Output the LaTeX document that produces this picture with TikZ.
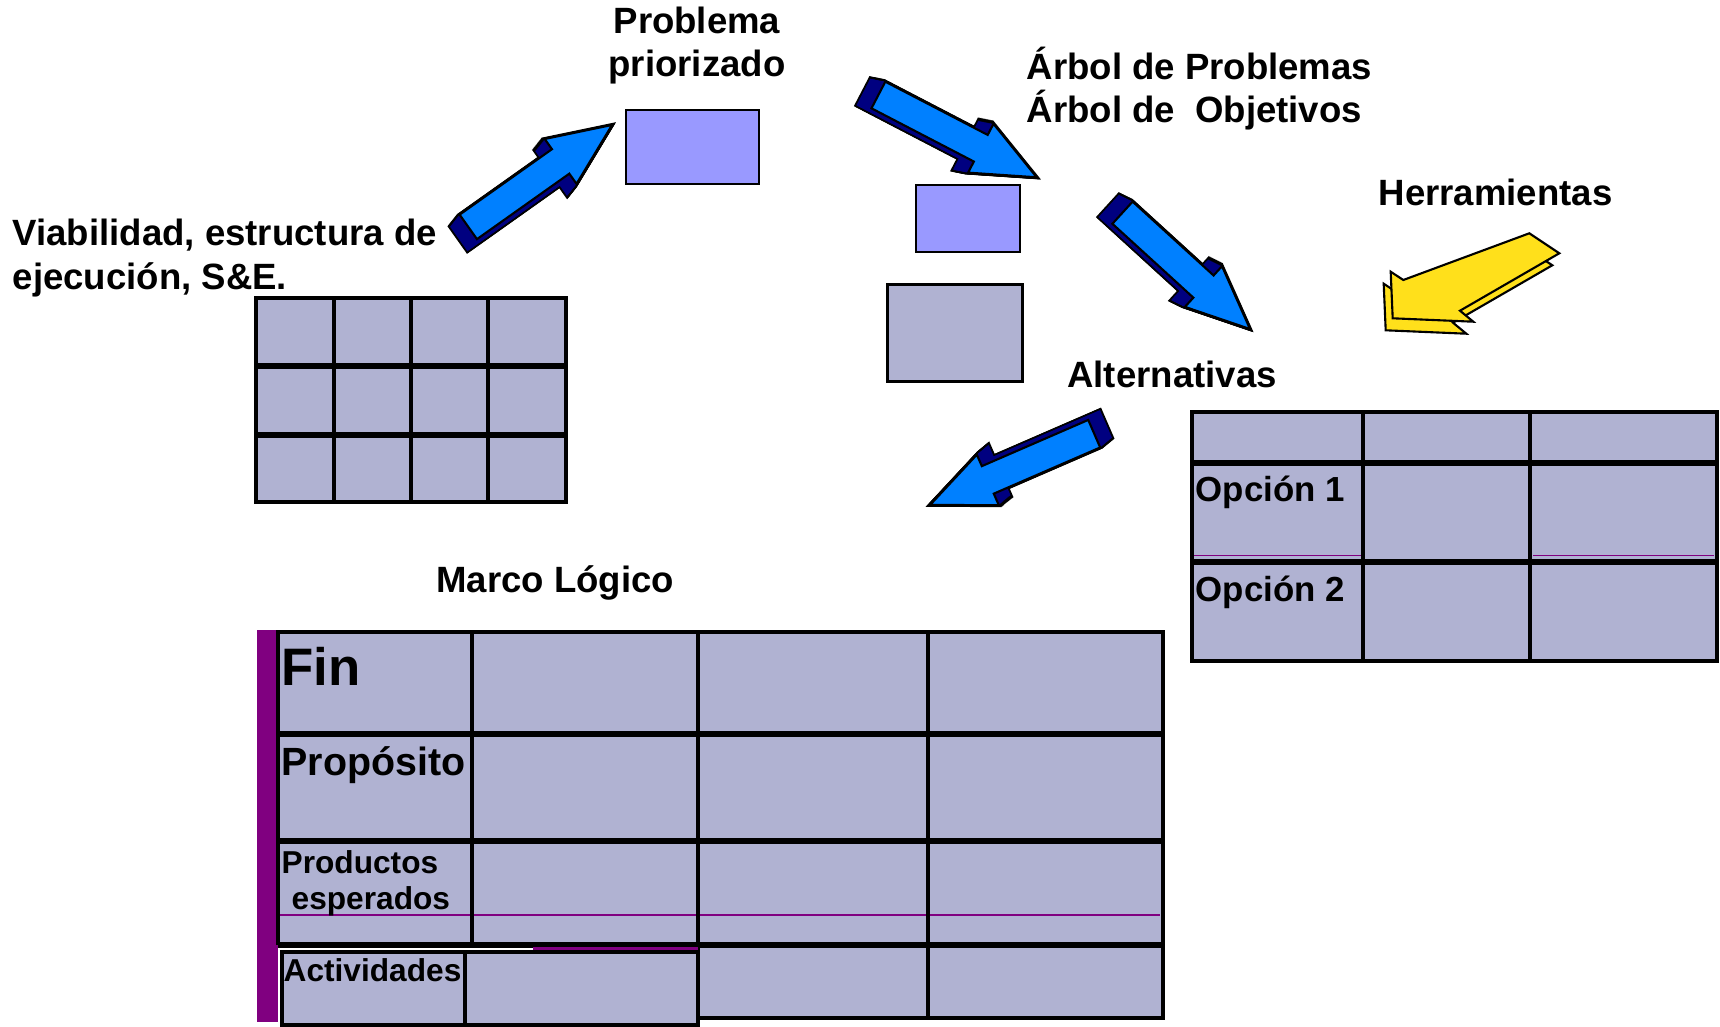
\documentclass[tikz,border=0pt]{standalone}
\usepackage{fontspec}
\setmainfont{Liberation Sans}
\usepackage{tikz}
\usetikzlibrary{positioning}
\definecolor{celda}{HTML}{B0B2D2}
\definecolor{lila}{HTML}{9999FF}
\definecolor{azul}{HTML}{0080FF}
\definecolor{azuloscuro}{HTML}{000080}
\definecolor{amarillo}{HTML}{FFE01B}
\definecolor{morado}{HTML}{800080}
\def\contorno#1{(0,-15) -- (#1-63,-15) -- (#1-63,-27.5) -- (#1,0) -- (#1-63,27.5) -- (#1-63,15) -- (0,15) -- cycle}
\def\amarilla{(1529.3,233.3) -- (1559.3,253.3) -- (1460,310.7) -- (1473.3,321.7) -- (1392.7,318.3) -- (1390.7,271.7) -- (1403.3,280) -- cycle}
\tikzset{pics/flecha/.style={code={
  \foreach \k in {0,0.05,...,1} \draw[line width=1.1pt, shift={(-15.5*\k,4.5*\k)}] \contorno{#1};
  \foreach \k in {0,0.05,...,1} \fill[azuloscuro, shift={(-15.5*\k,4.5*\k)}] \contorno{#1};
  \draw[fill=azul, line width=0.6pt] \contorno{#1};
}}}

\begin{document}
\begin{tikzpicture}[x=0.01cm, y=-0.01cm,
                      every node/.style = {inner sep=0pt,
                        font=\bfseries\fontsize{10.4}{12.5}\selectfont},
                      texto/.style = {anchor=base west, align=left},
                      caja/.style = {draw, line width=0.6pt, fill=lila},
                      vline/.style = {line width=1.2pt},
                      hline/.style = {line width=1.7pt}]
\useasboundingbox (0,0) rectangle (1720,1027);

% rejilla de arriba
\fill[celda] (256,298) rectangle (566,502);
\foreach \x in {334,411,488} \draw[vline] (\x,298) -- (\x,502);
\foreach \y in {366,435} \draw[hline] (256,\y) -- (566,\y);
\draw[vline] (256,298) rectangle (566,502);

% tabla de alternativas
\fill[celda] (1192,412) rectangle (1717,661);
\foreach \x in {1363,1530} \draw[vline] (\x,412) -- (\x,661);
\foreach \y in {463,562} \draw[hline] (1192,\y) -- (1717,\y);
\draw[morado, line width=0.4pt] (1193,555.5) -- (1361,555.5) (1533,555.5) -- (1714,555.5);
\draw[vline] (1192,412) rectangle (1717,661);

% marco logico
\fill[morado] (257,630) rectangle (278,1022);
\fill[celda] (278,632) rectangle (1163,945) (698,945) rectangle (1163,1018);
\draw[morado, line width=0.4pt] (280,915) -- (1160,915);
\draw[vline] (472,632) -- (472,945);
\foreach \x in {698,928} \draw[vline] (\x,632) -- (\x,1018);
\foreach \y in {734,841,945} \draw[hline] (278,\y) -- (1163,\y);
\draw[vline] (278,945) -- (278,632) -- (1163,632) -- (1163,1018) -- (698,1018);
\fill[morado] (533,947) rectangle (698,951);
\draw[vline, fill=celda] (282,952) rectangle (465,1025);
\draw[vline, fill=celda] (465,952) rectangle (698,1025);

% cajas
\node[caja, minimum width=1.33cm, minimum height=0.74cm] (prob) at (692.5,147) {};
\node[caja, minimum width=1.04cm, minimum height=0.67cm] (arbolcaja) at (968,218.7) {};
\node[draw, line width=1pt, fill=celda, minimum width=1.346cm,
      minimum height=0.974cm] (altcaja) at (955,333) {};

% flechas
\pic[rotate=35.34] at (468.3,226.9) {flecha=176.2};
\pic[rotate=-27.47] at (878.4,95) {flecha=178.4};
\pic[rotate=-42.37] at (1122.5,212.7) {flecha=172.6};
\pic[rotate=-156.53] at (1094.2,433.7) {flecha=179};
\draw[fill=amarillo, line width=0.6pt, shift={(-7,12)}] \amarilla;
\draw[fill=amarillo, line width=0.6pt] \amarilla;

% textos (base = ultima linea)
\node[anchor=base, align=center] (problema) at (697,77) {Problema\\priorizado};
\node[texto] (arbol) at (1026,123) {Árbol de Problemas\\Árbol de~~Objetivos};
\node[texto] (herram) at (1378,205) {Herramientas};
\node[texto] (viab) at (12,289) {Viabilidad, estructura de\\ejecución, S\&E.};
\node[texto] (alternat) at (1066.7,387) {Alternativas};
\node[texto] (marco) at (435.5,592) {Marco Lógico};
\node[texto, font=\bfseries\fontsize{9.9}{12}\selectfont] (op1) at (1195,501.7) {Opción 1};
\node[texto, font=\bfseries\fontsize{9.9}{12}\selectfont] (op2) at (1195,601.7) {Opción 2};
\node[texto, font=\bfseries\fontsize{15}{18}\selectfont] (fin) at (281,685) {Fin};
\node[texto, font=\bfseries\fontsize{11.2}{13}\selectfont] (proposito) at (281,775) {Propósito};
\node[texto, font=\bfseries\fontsize{9}{10.2}\selectfont] (productos) at (281,909.3)
  {Productos\\\hspace*{0.1cm}esperados};
\node[texto, font=\bfseries\fontsize{9}{10.2}\selectfont] (activ) at (283,981.7) {Actividades};
\end{tikzpicture}
\end{document}
